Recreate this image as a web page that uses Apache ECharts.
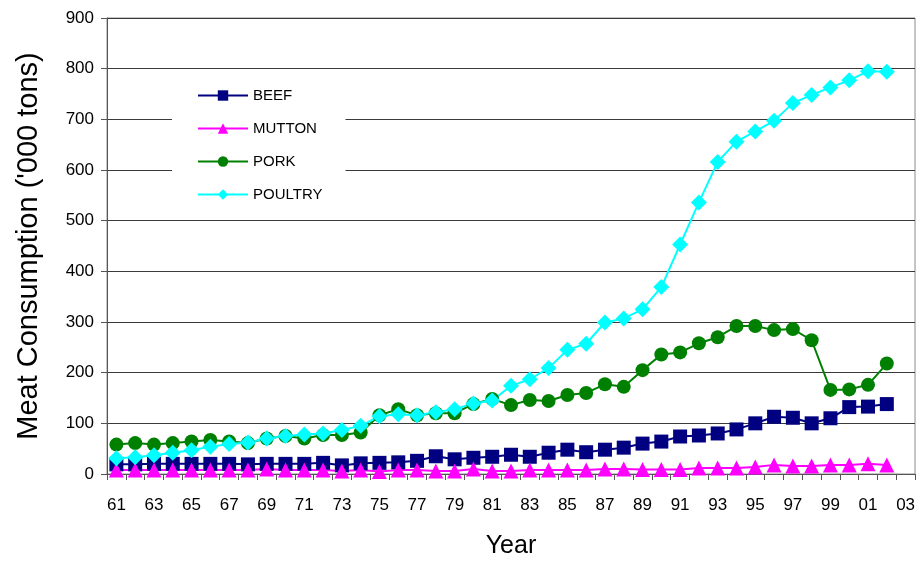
<!DOCTYPE html>
<html>
<head>
<meta charset="utf-8">
<title>Meat Consumption</title>
<script src="https://cdn.jsdelivr.net/npm/echarts@6/dist/echarts.min.js"></script>
<style>
  html, body { margin: 0; padding: 0; background: #fff; }
  #chart { width: 919px; height: 564px; }
</style>
</head>
<body>
<div id="chart"></div>
<script>
// Years 1961-2003 (two-digit labels); data runs through 2002
const years = ['61','62','63','64','65','66','67','68','69','70',
               '71','72','73','74','75','76','77','78','79','80',
               '81','82','83','84','85','86','87','88','89','90',
               '91','92','93','94','95','96','97','98','99','00',
               '01','02','03'];

// Consumption in '000 tons
const beef = [19, 19, 20, 20, 20, 20, 20, 19, 20, 20,
              20, 22, 17, 21, 22, 23, 26, 35, 29, 32,
              34, 38, 34, 42, 48, 43, 48, 52, 60, 64,
              74, 76, 80, 88, 100, 113, 111, 100, 110, 132,
              133, 138];

const mutton = [8, 8, 8, 8, 8, 8, 8, 8, 10, 8,
                8, 8, 6, 8, 5, 8, 8, 6, 6, 10,
                6, 6, 8, 8, 8, 8, 10, 10, 9, 9,
                9, 12, 12, 12, 14, 18, 16, 16, 18, 18,
                20, 18];

const pork = [58, 61, 58, 61, 64, 67, 64, 61, 70, 75,
              70, 77, 77, 82, 116, 128, 116, 120, 120, 138,
              148, 136, 146, 144, 156, 160, 177, 172, 205, 236,
              240, 258, 270, 292, 292, 284, 286, 264, 166, 167,
              176, 218];

const poultry = [31, 33, 37, 42, 47, 54, 59, 62, 70, 75,
                 78, 80, 87, 95, 114, 118, 116, 122, 128, 139,
                 145, 174, 187, 209, 245, 257, 299, 307, 325, 369,
                 453, 536, 616, 656, 676, 697, 732, 748, 763, 777,
                 795, 794];

const seriesNames = ['BEEF', 'MUTTON', 'PORK', 'POULTRY'];
const yTicks = { min: 0, max: 900, step: 100 };

const font = 'Arial, "Liberation Sans", sans-serif';

function lineSeries(name, data, color, symbol, size) {
  return {
    name: name,
    type: 'line',
    data: data,
    symbol: symbol,
    symbolSize: size,
    showSymbol: true,
    showAllSymbol: true,
    lineStyle: { color: color, width: 2 },
    itemStyle: { color: color, borderWidth: 0, opacity: 1 },
    emphasis: { disabled: true },
    z: 2
  };
}

const chart = echarts.init(document.getElementById('chart'), null, { renderer: 'canvas' });

chart.setOption({
  animation: false,
  backgroundColor: '#ffffff',
  textStyle: { fontFamily: font, color: '#000' },
  grid: {
    left: 107, right: 4, top: 18, bottom: 90,
    show: true, borderColor: '#8c8c8c', borderWidth: 1, backgroundColor: 'transparent'
  },
  legend: {
    orient: 'vertical',
    left: 172,
    top: 72,
    padding: [16, 23, 15, 25],
    backgroundColor: '#ffffff',
    itemWidth: 50,
    itemHeight: 13,
    itemGap: 18,
    data: seriesNames,
    textStyle: { fontFamily: font, fontSize: 15, color: '#000' }
  },
  xAxis: {
    type: 'category',
    data: years,
    boundaryGap: true,
    name: 'Year',
    nameLocation: 'middle',
    nameGap: 60,
    nameTextStyle: { fontFamily: font, fontSize: 25, color: '#000' },
    axisLine: { show: true, lineStyle: { color: '#555', width: 1 } },
    axisTick: { show: true, interval: 0, alignWithLabel: false, length: 6, lineStyle: { color: '#555' } },
    axisLabel: { interval: 1, margin: 23, fontFamily: font, fontSize: 17, color: '#000' },
    splitLine: { show: false }
  },
  yAxis: {
    type: 'value',
    min: yTicks.min,
    max: yTicks.max,
    interval: yTicks.step,
    name: "Meat Consumption ('000 tons)",
    nameLocation: 'middle',
    nameGap: 64,
    nameTextStyle: { fontFamily: font, fontSize: 29, color: '#000' },
    axisLine: { show: true, lineStyle: { color: '#555', width: 1 } },
    axisTick: { show: true, length: 6, lineStyle: { color: '#555' } },
    axisLabel: { margin: 13, fontFamily: font, fontSize: 17, color: '#000' },
    splitLine: { show: true, lineStyle: { color: '#3a3a3a', width: 1 } }
  },
  series: [
    lineSeries('BEEF', beef, '#000080', 'rect', 14),
    lineSeries('MUTTON', mutton, '#ff00ff', 'triangle', 15),
    lineSeries('PORK', pork, '#008000', 'circle', 14),
    lineSeries('POULTRY', poultry, '#00ffff', 'diamond', 16)
  ]
});
</script>
</body>
</html>
